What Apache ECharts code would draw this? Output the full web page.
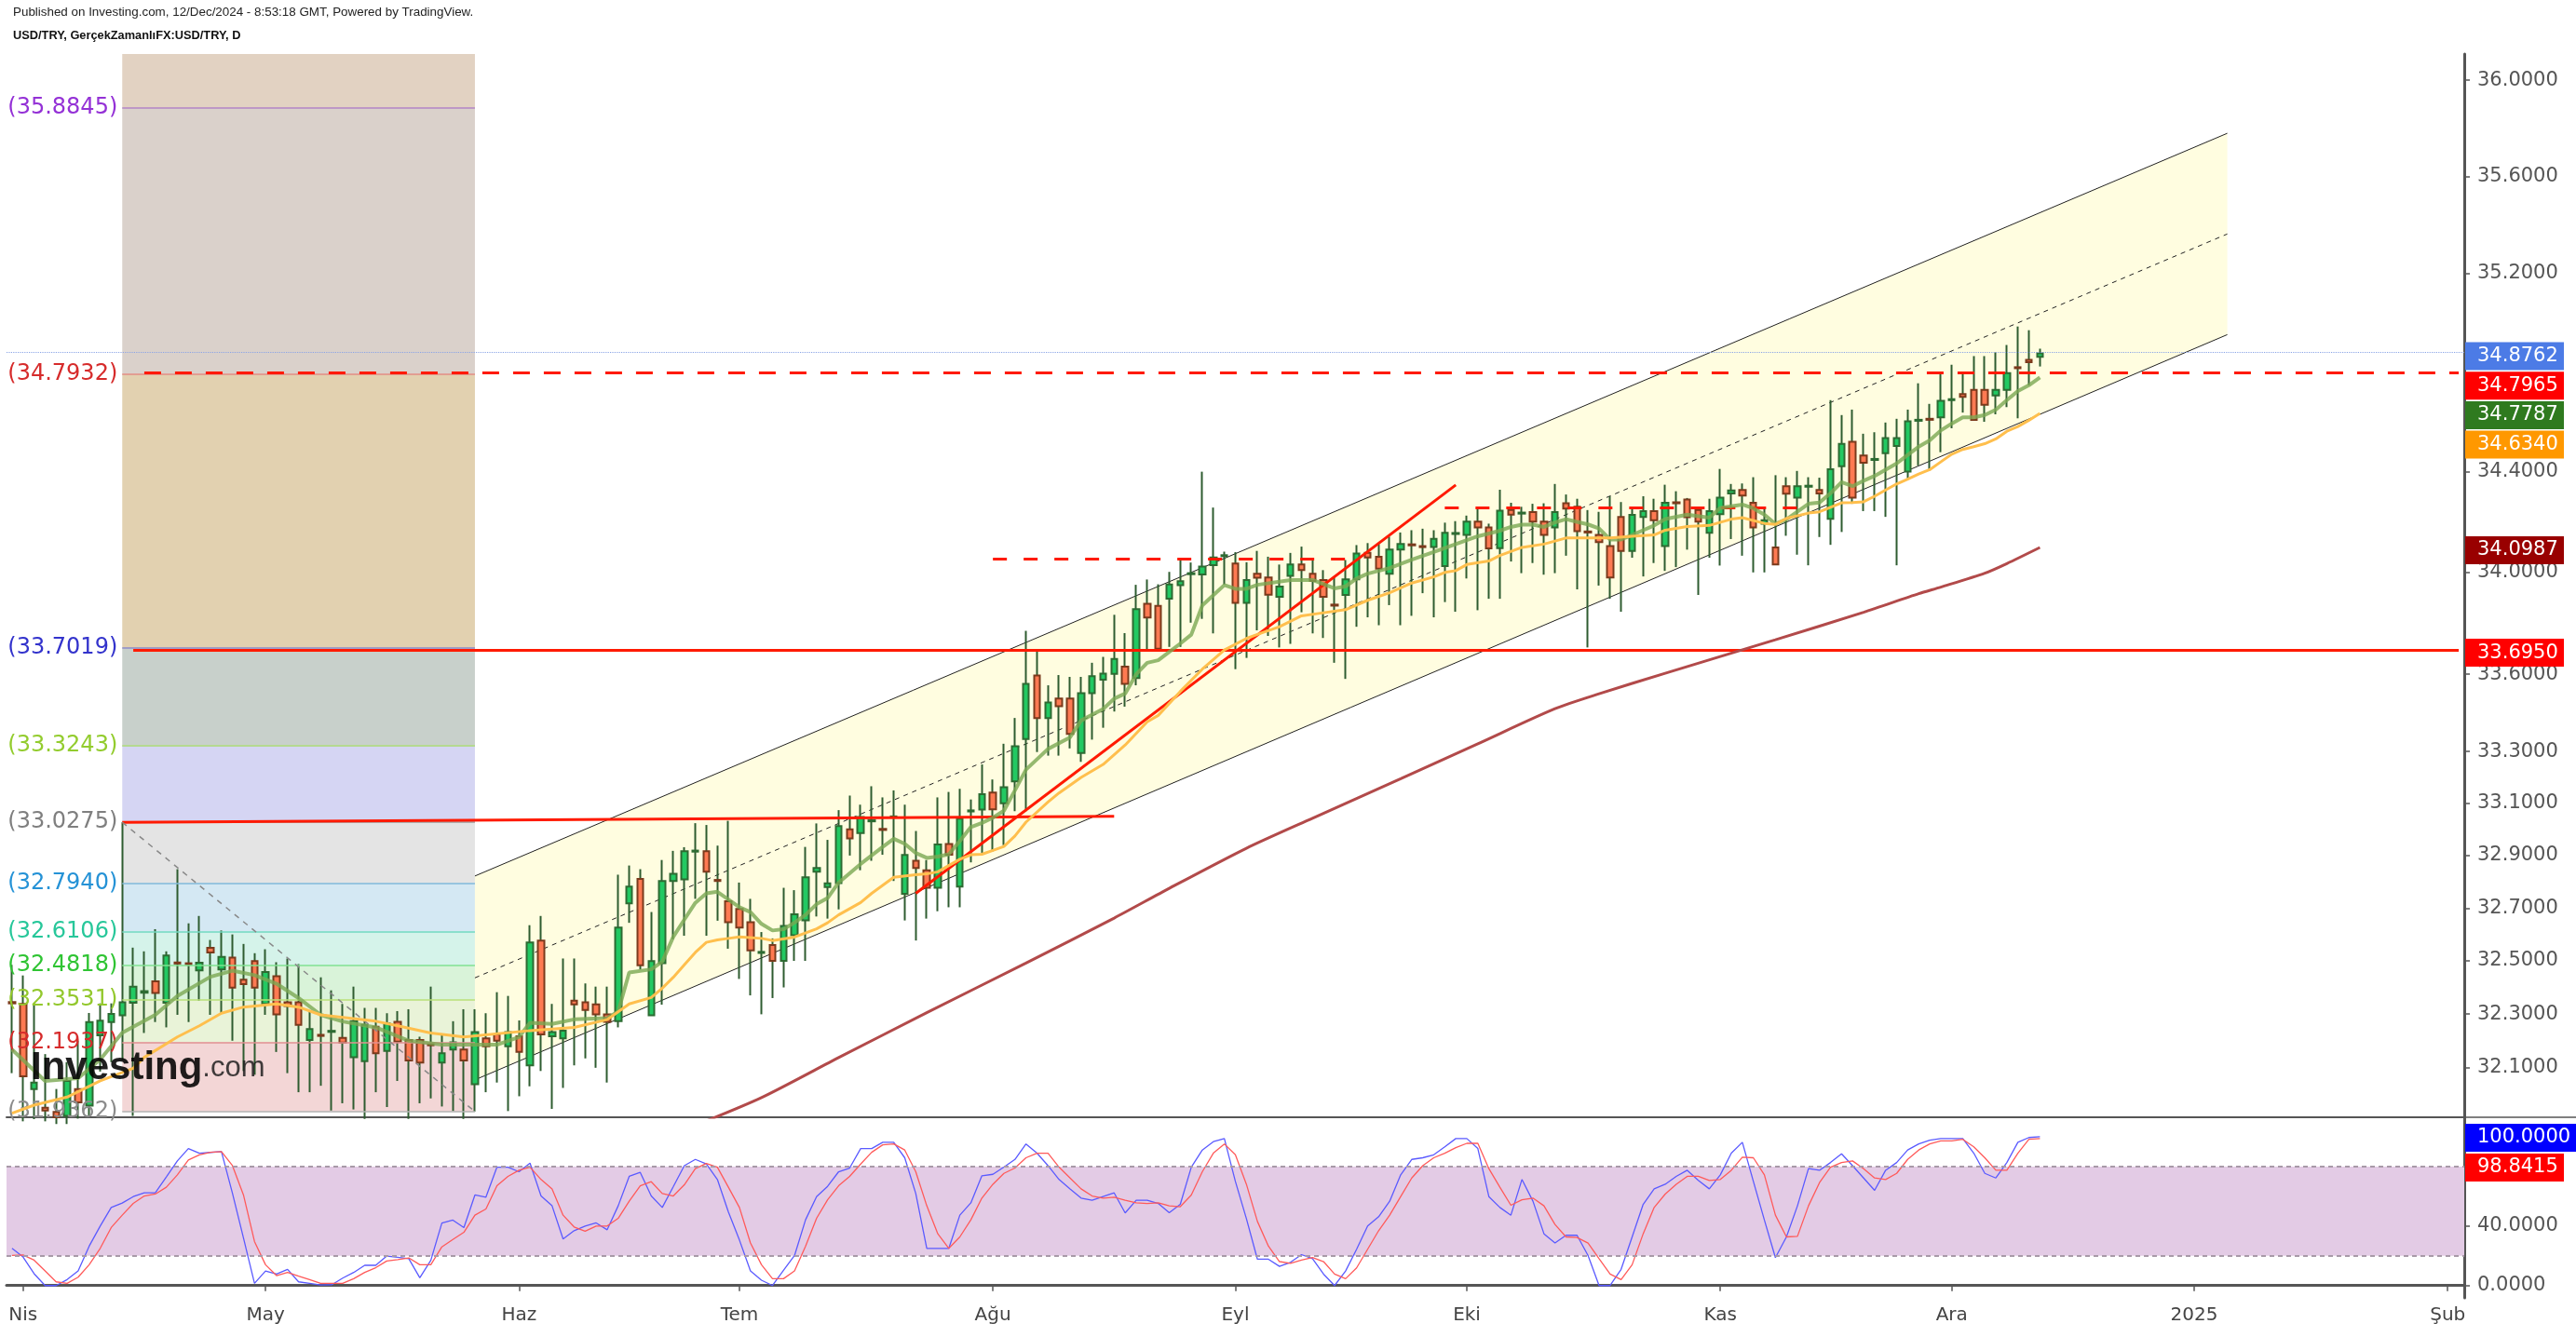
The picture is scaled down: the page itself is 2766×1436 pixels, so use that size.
<!DOCTYPE html>
<html>
<head>
<meta charset="utf-8">
<title>USD/TRY</title>
<script src="https://cdn.jsdelivr.net/npm/echarts/dist/echarts.min.js"></script>
<style>
html,body{margin:0;padding:0;background:#fff;}
#chart{width:2766px;height:1436px;}
</style>
</head>
<body>
<div id="chart"></div>
<script>
// ================= DATA =================
const firstDate = '2024-03-29';
const slotCount = 223;                       // weekdays shown on the time axis
const monthNames = ['Oca','Şub','Mar','Nis','May','Haz','Tem','Ağu','Eyl','Eki','Kas','Ara'];

// daily candles [open, close, low, high]
const candles = [
[32.345,32.340,32.079,32.485],[32.338,32.067,31.900,32.445],[32.020,32.044,31.908,32.338],[31.950,31.940,31.900,32.150],[31.935,31.915,31.890,32.020],
[31.920,32.050,31.890,32.120],[32.020,31.970,31.910,32.200],[31.958,32.270,31.920,32.304],[32.220,32.275,32.085,32.340],[32.270,32.300,32.120,32.340],
[32.295,32.344,32.130,33.0275],[32.342,32.403,31.920,32.550],[32.380,32.386,32.229,32.536],[32.423,32.379,32.270,32.620],[32.342,32.520,32.250,32.536],
[32.494,32.490,32.297,32.848],[32.491,32.487,32.270,32.642],[32.464,32.493,32.350,32.670],[32.549,32.532,32.297,32.579],[32.468,32.515,32.303,32.615],
[32.512,32.399,32.200,32.600],[32.429,32.412,32.087,32.564],[32.499,32.399,32.073,32.529],[32.338,32.458,32.297,32.544],[32.442,32.299,32.158,32.495],
[32.344,32.330,32.079,32.509],[32.344,32.259,32.008,32.488],[32.203,32.244,32.008,32.311],[32.222,32.218,32.032,32.438],[32.233,32.237,31.940,32.389],
[32.211,32.193,31.967,32.338],[32.138,32.273,31.944,32.403],[32.124,32.259,31.909,32.323],[32.252,32.153,32.008,32.323],[32.162,32.265,31.953,32.303],
[32.271,32.197,32.050,32.311],[32.203,32.126,31.909,32.318],[32.203,32.118,31.967,32.215],[32.187,32.183,31.985,32.403],[32.118,32.153,31.955,32.226],
[32.167,32.194,31.938,32.273],[32.167,32.126,31.909,32.318],[32.038,32.232,31.936,32.318],[32.209,32.179,32.008,32.303],[32.224,32.200,32.044,32.382],
[32.179,32.232,31.938,32.368],[32.217,32.158,31.993,32.276],[32.108,32.570,32.030,32.635],[32.577,32.224,32.087,32.670],[32.217,32.232,31.946,32.338],
[32.209,32.238,32.024,32.509],[32.350,32.336,32.108,32.509],[32.344,32.315,32.134,32.415],[32.336,32.299,32.099,32.403],[32.299,32.271,32.044,32.403],
[32.273,32.626,32.250,32.827],[32.718,32.782,32.644,32.862],[32.811,32.483,32.468,32.848],[32.295,32.499,32.295,32.685],[32.491,32.803,32.335,32.883],
[32.803,32.830,32.582,32.918],[32.809,32.917,32.595,32.932],[32.915,32.919,32.735,33.024],[32.917,32.838,32.595,33.017],[32.807,32.803,32.652,32.938],
[32.726,32.646,32.546,33.033],[32.697,32.626,32.432,32.797],[32.646,32.540,32.370,32.735],[32.530,32.534,32.299,32.609],[32.560,32.500,32.360,32.585],
[32.500,32.632,32.400,32.777],[32.597,32.676,32.500,32.768],[32.653,32.817,32.500,32.933],[32.838,32.853,32.668,33.023],[32.780,32.794,32.660,32.960],
[32.795,33.013,32.695,33.074],[33.000,32.966,32.900,33.130],[32.986,33.048,32.844,33.095],[33.031,33.035,32.880,33.166],[33.002,32.998,32.903,33.123],
[33.046,33.050,32.803,33.150],[32.754,32.902,32.653,33.095],[32.880,32.853,32.577,32.994],[32.844,32.777,32.660,32.883],[32.777,32.942,32.688,33.123],
[32.944,32.903,32.703,33.144],[32.782,33.041,32.703,33.156],[33.069,33.073,32.874,33.115],[33.076,33.135,32.909,33.250],[33.142,33.077,32.915,33.192],
[33.100,33.162,32.940,33.330],[33.185,33.320,33.070,33.430],[33.348,33.563,33.070,33.770],[33.595,33.430,33.298,33.697],[33.430,33.490,33.284,33.557],
[33.506,33.476,33.284,33.597],[33.506,33.368,33.312,33.590],[33.294,33.526,33.260,33.590],[33.526,33.593,33.346,33.645],[33.579,33.603,33.392,33.668],
[33.602,33.660,33.455,33.833],[33.630,33.563,33.474,33.761],[33.585,33.855,33.557,33.951],[33.876,33.822,33.690,33.972],[33.868,33.700,33.690,33.953],
[33.896,33.952,33.707,34.002],[33.950,33.965,33.707,34.047],[33.993,33.997,33.802,34.039],[33.992,34.023,33.817,34.400],[34.029,34.059,33.760,34.257],
[34.064,34.068,33.952,34.082],[34.035,33.880,33.620,34.080],[33.880,33.970,33.664,34.040],[33.995,33.979,33.772,34.085],[33.980,33.912,33.750,34.062],
[33.904,33.944,33.705,34.031],[33.986,34.031,33.719,34.077],[34.031,34.009,33.843,34.102],[33.995,33.966,33.760,34.058],[33.970,33.904,33.742,34.009],
[33.873,33.869,33.645,33.982],[33.911,33.973,33.582,34.049],[33.973,34.075,33.786,34.108],[34.077,34.059,33.823,34.116],[34.062,34.015,33.792,34.112],
[33.995,34.090,33.871,34.142],[34.090,34.112,33.792,34.158],[34.111,34.107,33.829,34.167],[34.104,34.100,33.918,34.173],[34.100,34.133,33.823,34.167],
[34.025,34.157,33.883,34.197],[34.152,34.156,33.845,34.203],[34.148,34.201,33.976,34.225],[34.201,34.178,33.851,34.256],[34.178,34.095,33.896,34.193],
[34.096,34.245,33.896,34.328],[34.247,34.229,34.043,34.276],[34.233,34.237,33.997,34.260],[34.239,34.201,34.037,34.272],[34.201,34.148,33.991,34.274],
[34.178,34.239,33.997,34.351],[34.274,34.253,34.066,34.309],[34.260,34.163,33.933,34.292],[34.162,34.158,33.705,34.247],[34.148,34.120,33.948,34.240],
[34.104,33.980,33.896,34.302],[34.220,34.085,33.845,34.279],[34.085,34.228,34.058,34.260],[34.220,34.243,33.984,34.302],[34.243,34.207,34.037,34.292],
[34.104,34.276,34.006,34.348],[34.278,34.274,34.021,34.322],[34.289,34.219,34.090,34.295],[34.247,34.201,33.911,34.256],[34.157,34.243,34.058,34.292],
[34.231,34.296,34.027,34.411],[34.313,34.325,34.132,34.351],[34.327,34.305,34.066,34.353],[34.276,34.178,34.000,34.378],[34.193,34.207,34.000,34.260],
[34.099,34.031,34.031,34.386],[34.342,34.312,34.145,34.378],[34.296,34.342,34.070,34.403],[34.340,34.344,34.028,34.378],[34.327,34.313,34.140,34.376],
[34.212,34.410,34.109,34.687],[34.422,34.511,34.160,34.627],[34.520,34.296,34.272,34.649],[34.465,34.436,34.243,34.552],[34.447,34.451,34.243,34.558],
[34.474,34.535,34.220,34.597],[34.503,34.535,34.028,34.612],[34.400,34.602,34.373,34.649],[34.604,34.608,34.425,34.755],[34.612,34.608,34.404,34.672],
[34.618,34.684,34.478,34.799],[34.687,34.691,34.574,34.830],[34.712,34.700,34.637,34.799],[34.728,34.608,34.608,34.865],[34.728,34.668,34.600,34.865],
[34.706,34.728,34.630,34.880],[34.728,34.796,34.659,34.910],[34.820,34.816,34.614,34.985],[34.850,34.840,34.747,34.970],[34.862,34.8762,34.823,34.895]
];

// moving averages: [candle index, value]
const fastMA = [[0,32.167],[3,32.05],[6,32.06],[8,32.13],[10,32.23],[13,32.297],[15,32.368],[18,32.44],[20,32.463],[22,32.446],[24,32.414],[26,32.36],[28,32.297],[30,32.272],[33,32.25],[36,32.2],[39,32.185],[42,32.185],[44,32.185],[46,32.214],[47,32.267],[49,32.263],[51,32.28],[54,32.285],[55,32.309],[56,32.456],[58,32.468],[59,32.497],[60,32.591],[61,32.656],[62,32.72],[63,32.756],[64,32.762],[66,32.703],[67,32.685],[68,32.64],[69,32.615],[70,32.62],[71,32.645],[72,32.674],[73,32.715],[74,32.738],[75,32.797],[77,32.868],[79,32.933],[80,32.964],[81,32.945],[82,32.91],[83,32.891],[84,32.896],[85,32.905],[86,32.956],[87,33.009],[88,33.025],[89,33.045],[90,33.072],[91,33.15],[92,33.23],[94,33.31],[96,33.355],[97,33.42],[99,33.465],[100,33.505],[101,33.525],[102,33.6],[103,33.645],[104,33.655],[106,33.72],[107,33.755],[108,33.87],[109,33.91],[110,33.95],[111,33.935],[112,33.935],[113,33.951],[116,33.97],[118,33.97],[120,33.937],[121,33.945],[122,33.976],[123,33.995],[125,34.017],[127,34.05],[129,34.081],[131,34.112],[133,34.143],[135,34.165],[136,34.18],[137,34.189],[138,34.189],[139,34.18],[140,34.198],[141,34.211],[142,34.2],[143,34.19],[144,34.174],[145,34.13],[146,34.13],[147,34.148],[148,34.167],[149,34.186],[150,34.211],[152,34.229],[154,34.217],[155,34.256],[157,34.269],[158,34.254],[159,34.229],[160,34.192],[161,34.21],[163,34.272],[164,34.277],[165,34.314],[166,34.358],[167,34.342],[168,34.364],[169,34.383],[170,34.408],[171,34.433],[172,34.467],[173,34.5],[174,34.525],[175,34.565],[176,34.593],[177,34.618],[178,34.618],[179,34.627],[180,34.649],[181,34.687],[182,34.724],[183,34.747],[184,34.7787]];
const midMA = [[0,31.93],[2,31.96],[5,31.99],[8,32.05],[11,32.097],[12,32.138],[15,32.214],[17,32.256],[19,32.303],[21,32.326],[24,32.338],[26,32.326],[28,32.297],[33,32.273],[35,32.256],[38,32.229],[41,32.214],[47,32.238],[51,32.25],[54,32.279],[56,32.338],[58,32.362],[59,32.397],[60,32.438],[61,32.485],[62,32.532],[63,32.57],[64,32.579],[65,32.585],[66,32.591],[68,32.585],[69,32.577],[71,32.59],[73,32.621],[74,32.644],[75,32.674],[77,32.721],[78,32.756],[80,32.817],[82,32.827],[83,32.83],[84,32.838],[85,32.862],[86,32.886],[87,32.903],[88,32.905],[89,32.92],[90,32.935],[91,32.975],[92,33.028],[94,33.105],[95,33.14],[97,33.2],[99,33.25],[101,33.325],[103,33.415],[104,33.44],[106,33.533],[108,33.62],[110,33.695],[112,33.74],[113,33.756],[115,33.786],[117,33.829],[119,33.841],[121,33.853],[123,33.89],[125,33.92],[127,33.958],[129,33.982],[130,34.0],[131,34.007],[132,34.031],[134,34.045],[135,34.067],[137,34.099],[139,34.112],[141,34.136],[143,34.136],[145,34.136],[147,34.143],[149,34.148],[150,34.167],[152,34.182],[154,34.186],[156,34.211],[157,34.217],[159,34.194],[160,34.19],[161,34.214],[163,34.235],[164,34.24],[166,34.276],[167,34.277],[168,34.28],[169,34.302],[170,34.327],[171,34.351],[172,34.37],[173,34.391],[174,34.408],[175,34.439],[176,34.47],[177,34.489],[178,34.5],[179,34.512],[180,34.531],[181,34.562],[182,34.581],[183,34.606],[184,34.634]];
const slowMA = [[62,31.885],[68,31.988],[75,32.137],[83,32.305],[92,32.492],[100,32.662],[105,32.775],[112,32.928],[118,33.043],[126,33.195],[133,33.330],[140,33.466],[144,33.524],[150,33.604],[160,33.735],[168,33.843],[173,33.916],[175,33.942],[179,33.997],[181,34.035],[184,34.0987]];

// stochastic %K and %D, one value per candle
const stochK = [25.0,19.2,8,0,0,4,9.8,26.5,40,52.5,55.5,59.8,62.3,62.3,73,83.8,92.1,89.0,89.5,90.0,62,32,1.5,9.8,7.7,10.9,2.5,1.5,0.4,0.5,5,8.8,13.6,13.6,19.8,19,18.1,5.2,17,42,44,39.0,60.9,59.4,79.6,79.6,76.5,82.3,60.2,53.6,31.3,36.9,40,42.1,37.5,53.6,73.4,76.1,60.2,52.5,66.5,80.6,84.8,81.7,71.3,49.4,30.6,9.8,3.6,0.0,10.2,20.2,44.2,59.8,66.7,76.5,79.0,92.1,92.1,96.3,96.3,85.9,61.9,25.0,25.0,25.0,47.3,55.6,73.8,74.8,79.6,84.8,95.2,89.0,80.6,71.3,65.0,58.8,57.3,59.8,62.3,48.8,57.3,57.3,55.2,49.0,54.6,79.6,91.1,96.7,98.8,70,45,17.7,17.7,12.9,15.6,20.8,18.1,7.7,0.0,9.8,24.4,40.0,46.3,56.7,74.4,84.8,85.9,87.9,93.2,98.8,98.8,92.1,59.8,52.5,47.3,71.3,56.7,34.8,28.6,33.8,33.8,20.2,0.0,0.0,10.9,32.7,54.6,65.0,68.1,73.4,77.5,70.7,65.0,74.4,89.0,96.3,70,44,18.8,32.7,53.6,78.6,77.5,82.7,88.6,80.6,72.3,64.0,77.5,82.7,91.1,95.2,97.7,98.8,98.8,98.8,89.0,75.4,72.3,82.7,96.3,99.5,100];
const stochD = [20.2,20.6,17.1,9.8,2.5,1.5,5.6,14.0,25,39.0,47.3,55.2,60.2,61.5,66.1,74.4,84.4,87.9,89.6,90.0,80.6,60.9,29.6,14.0,6.7,8.8,6.3,4,1.5,1.5,1.5,4.6,8.8,12,16.5,17.5,18.6,14.0,14.0,26,31,35.8,47.3,51.5,67.1,73.4,77.5,79.6,71.3,65.0,47.3,39.4,36.5,40.0,40.0,45.2,56.7,67.1,69.8,61.9,60.2,67.7,78.6,82.1,79.6,66.1,52.5,28.6,14.0,4.6,4.6,9.8,26.5,45.2,57.7,67.1,73.4,81.7,89.6,94.6,95.2,91.1,76.5,53.6,34.8,25.0,32.7,44.2,58.8,68.1,75.4,79.0,85.9,89.0,89.0,79.6,72.3,65.0,60.2,58.8,59.4,57.3,55.6,55.2,55.6,53.6,53.0,60.9,76.5,89.0,95.2,87.9,68.1,43.1,26.5,16.1,15.0,17.1,18.8,16.1,7.7,4.6,11.9,24.4,36.9,47.3,59.8,72.3,80.6,85.9,89.0,92.7,95.6,95.6,78.6,66.1,54.0,57.7,58.8,53.6,41.1,32.7,32.3,28.6,18.1,7.7,4.0,14.0,34.8,52.5,61.5,68.1,73.4,73.4,70.7,71.3,77.5,86.3,85.9,74.4,47.3,32.7,33.1,53.6,69.2,79.6,82.7,83.8,78.6,72.3,71.3,75.4,84.8,91.1,95.2,97.3,97.3,98.3,93.2,85.9,77.5,77.5,89.0,98.3,98.8415];

// fibonacci retracement (drawn from candle 10 to candle 42)
const fibRange = [10, 42];
const fibLevels = [35.8845, 34.7932, 33.7019, 33.3243, 33.0275, 32.7940, 32.6106, 32.4818, 32.3531, 32.1937, 31.9362];

// channel: [candle index, price]
const channelUpper = [[42, 32.822], [201, 35.779]];
const channelMid   = [[42, 32.436], [201, 35.363]];
const channelLower = [[42, 32.054], [201, 34.952]];

// hand drawn lines
const breakoutLine = [[10, 33.0275], [100, 33.05]];
const trendLine    = [[82, 32.756], [131, 34.347]];
const fibDiagonal  = [[10, 33.0275], [42, 31.9362]];
const resist1      = [[89, 34.055], [121, 34.055]];
const resist2      = [[130, 34.256], [162, 34.256]];
const upperLevel   = [[12, 34.7965], [222, 34.7965]];
const lowerLevel   = [[11, 33.695], [222, 33.695]];

// axis
const priceMin = 31.915, priceMax = 36.11;
const priceTicks = [32.1, 32.3, 32.5, 32.7, 32.9, 33.1, 33.3, 33.6, 34.0, 34.4, 35.2, 35.6, 36.0];
const stochTicks = [0, 40];
const stochBand = [20, 80];

// ================= BUILD =================
function weekdays(start, n) {
  const out = [];
  const d = new Date(start + 'T00:00:00Z');
  while (out.length < n) {
    const wd = d.getUTCDay();
    if (wd !== 0 && wd !== 6) out.push(d.toISOString().slice(0, 10));
    d.setUTCDate(d.getUTCDate() + 1);
  }
  return out;
}
const categories = weekdays(firstDate, slotCount);
const isMonthStart = (idx) => idx > 0 && categories[idx].slice(5, 7) !== categories[idx - 1].slice(5, 7);
const monthLabel = (v) => { const m = +v.slice(5, 7); return m === 1 ? v.slice(0, 4) : monthNames[m - 1]; };

const bodies = candles.map(c => [c[0], c[1], Math.min(c[0], c[1]), Math.max(c[0], c[1])]);

const fibFill = ['#e2d2c2','#dad1cb','#e2d1b0','#c8d0cb','#d5d5f3','#e4e4e4','#d4e8f3','#d5f3ea','#d9f3d9','#e9f3d8','#f3d6d6'];
const fibText = ['#9431d6','#d62b2b','#3333cc','#93cc2e','#7f7f7f','#2592d6','#27c79a','#2fc433','#93c82d','#d62b2b','#8c8c8c'];
const fibLine = ['#b385c6','#e08a84','#8a8ac8','#a8d870','#9a9a9a','#80b8d8','#70d8c0','#80e090','#b8e078','#e09090','#b0b0b0'];

const fibAreaData = [];
fibAreaData.push([{xAxis: fibRange[0], yAxis: priceMax, itemStyle: {color: fibFill[0]}}, {xAxis: fibRange[1], yAxis: fibLevels[0]}]);
for (let k = 0; k < fibLevels.length - 1; k++) {
  fibAreaData.push([{xAxis: fibRange[0], yAxis: fibLevels[k], itemStyle: {color: fibFill[k + 1]}}, {xAxis: fibRange[1], yAxis: fibLevels[k + 1]}]);
}
const fibLineData = fibLevels.map((v, k) => [
  {coord: [fibRange[0], v], lineStyle: {color: fibLine[k], width: 1.5, type: 'solid'},
   label: {show: true, position: 'start', formatter: '(' + v.toFixed(4) + ')', color: fibText[k], fontSize: 24, fontFamily: 'DejaVu Sans', distance: 5}},
  {coord: [fibRange[1], v]}
]);

const seg = (pts, style) => [{coord: pts[0], lineStyle: style}, {coord: pts[1]}];
const lastClose = candles[candles.length - 1][1];

const option = {
  animation: false,
  backgroundColor: '#ffffff',
  textStyle: {fontFamily: 'DejaVu Sans'},
  grid: [
    {left: 7, right: 120, top: 58, height: 1142},
    {left: 7, right: 120, top: 1201, height: 193}
  ],
  xAxis: [
    {type: 'category', gridIndex: 0, data: categories, boundaryGap: true,
     axisLine: {show: true, lineStyle: {color: '#555', width: 2}}, axisTick: {show: false}, axisLabel: {show: false}, splitLine: {show: false}},
    {type: 'category', gridIndex: 1, data: categories, boundaryGap: true,
     axisLine: {show: true, lineStyle: {color: '#555', width: 3}},
     axisTick: {show: true, alignWithLabel: true, interval: isMonthStart, length: 6, lineStyle: {color: '#555', width: 1.5}},
     axisLabel: {interval: isMonthStart, formatter: monthLabel, fontSize: 20, color: '#444', margin: 9, fontFamily: 'DejaVu Sans'},
     splitLine: {show: false}}
  ],
  yAxis: [
    {type: 'log', gridIndex: 0, position: 'right', min: priceMin, max: priceMax,
     axisLine: {show: true, lineStyle: {color: '#555', width: 3}},
     axisTick: {show: true, length: 6, customValues: priceTicks, lineStyle: {color: '#555', width: 1.5}},
     axisLabel: {customValues: priceTicks, formatter: v => Number(v).toFixed(4), fontSize: 21, color: '#555', margin: 14, fontFamily: 'DejaVu Sans'},
     splitLine: {show: false}},
    {type: 'value', gridIndex: 1, position: 'right', min: -8.3, max: 112.5,
     axisLine: {show: true, lineStyle: {color: '#555', width: 3}},
     axisTick: {show: true, length: 6, customValues: stochTicks, lineStyle: {color: '#555', width: 1.5}},
     axisLabel: {customValues: stochTicks, formatter: v => Number(v).toFixed(4), fontSize: 21, color: '#555', margin: 14, fontFamily: 'DejaVu Sans'},
     splitLine: {show: false}}
  ],
  series: [
    {type: 'line', xAxisIndex: 0, yAxisIndex: 0, data: [], z: 1, silent: true,
     markArea: {silent: true, data: fibAreaData},
     markLine: {silent: true, symbol: ['none', 'none'], data: fibLineData}},
    {type: 'custom', xAxisIndex: 0, yAxisIndex: 0, z: 1, silent: true, data: [[channelUpper[0][0], channelUpper[0][1]]],
     renderItem: (params, api) => {
       const pts = [api.coord(channelUpper[0]), api.coord(channelUpper[1]), api.coord(channelLower[1]), api.coord(channelLower[0])];
       return {type: 'polygon', shape: {points: pts}, style: {fill: '#fffde0'}};
     }},
    {type: 'line', xAxisIndex: 0, yAxisIndex: 0, z: 2, data: channelUpper, symbol: 'none', silent: true, lineStyle: {color: '#222', width: 1}},
    {type: 'line', xAxisIndex: 0, yAxisIndex: 0, z: 2, data: channelLower, symbol: 'none', silent: true, lineStyle: {color: '#222', width: 1}},
    {type: 'line', xAxisIndex: 0, yAxisIndex: 0, z: 2, data: channelMid, symbol: 'none', silent: true, lineStyle: {color: '#222', width: 1, type: [5, 5]}},
    {type: 'candlestick', xAxisIndex: 0, yAxisIndex: 0, z: 3, data: candles, barWidth: 1, silent: true,
     itemStyle: {color: '#2e5c30', color0: '#2e5c30', borderColor: '#2e5c30', borderColor0: '#2e5c30', borderWidth: 2}},
    {type: 'candlestick', xAxisIndex: 0, yAxisIndex: 0, z: 4, data: bodies, barWidth: 7, silent: true,
     itemStyle: {color: '#22c962', color0: '#ff7a52', borderColor: '#2d6b32', borderColor0: '#7b3a1c', borderWidth: 2}},
    {type: 'line', xAxisIndex: 0, yAxisIndex: 0, z: 5, data: fastMA, symbol: 'none', silent: true, lineStyle: {color: 'rgba(122,168,82,0.8)', width: 4}},
    {type: 'line', xAxisIndex: 0, yAxisIndex: 0, z: 5, data: midMA, symbol: 'none', silent: true, lineStyle: {color: '#ffbf4d', width: 3}},
    {type: 'line', xAxisIndex: 0, yAxisIndex: 0, z: 5, data: slowMA, symbol: 'none', smooth: 0.25, silent: true, lineStyle: {color: '#b24a4a', width: 3}},
    {type: 'line', xAxisIndex: 0, yAxisIndex: 0, data: [], z: 6, silent: true,
     markLine: {silent: true, symbol: ['none', 'none'], label: {show: false},
       data: [
         seg(breakoutLine, {color: '#ff1a00', width: 3, type: 'solid'}),
         seg(trendLine, {color: '#ff1a00', width: 3, type: 'solid'}),
         seg(fibDiagonal, {color: '#888', width: 1.5, type: [6, 6]}),
         seg(resist1, {color: '#ff1a00', width: 3, type: [15, 18]}),
         seg(resist2, {color: '#ff1a00', width: 3, type: [15, 18]}),
         seg(upperLevel, {color: '#ff1a00', width: 3, type: [18, 15]}),
         seg(lowerLevel, {color: '#ff1a00', width: 3, type: 'solid'}),
         {yAxis: lastClose, lineStyle: {color: '#8aa4e6', width: 1.2, type: 'dotted'}}
       ]}},
    {type: 'line', xAxisIndex: 1, yAxisIndex: 1, data: [], z: 1, silent: true,
     markArea: {silent: true, itemStyle: {color: '#e3cbe5'}, data: [[{yAxis: stochBand[0]}, {yAxis: stochBand[1]}]]},
     markLine: {silent: true, symbol: ['none', 'none'], label: {show: false},
       lineStyle: {color: '#a89aa8', width: 2, type: [5, 4]},
       data: [{yAxis: stochBand[0]}, {yAxis: stochBand[1]}]}},
    {type: 'line', xAxisIndex: 1, yAxisIndex: 1, z: 3, data: stochK, symbol: 'none', silent: true, lineStyle: {color: '#5a5aff', width: 1.3}},
    {type: 'line', xAxisIndex: 1, yAxisIndex: 1, z: 3, data: stochD, symbol: 'none', silent: true, lineStyle: {color: '#ff5a5a', width: 1.3}}
  ]
};

const chart = echarts.init(document.getElementById('chart'), null, {renderer: 'canvas'});
chart.setOption(option);

const gfx = [
  {type: 'text', left: 14, top: 7, z: 100, style: {text: 'Published on Investing.com, 12/Dec/2024 - 8:53:18 GMT, Powered by TradingView.', font: '13.4px "Liberation Sans"', fill: '#222'}},
  {type: 'text', left: 14, top: 32, z: 100, style: {text: 'USD/TRY, GerçekZamanlıFX:USD/TRY, D', font: 'bold 12.8px "Liberation Sans"', fill: '#111'}},
  {type: 'text', left: 33, top: 1126, z: 90, style: {
    text: '{a|Investing}{b|.com}',
    rich: {a: {font: 'bold 42px "Liberation Sans"', fill: 'rgba(0,0,0,0.88)'}, b: {font: '31px "Liberation Sans"', fill: 'rgba(30,30,30,0.85)'}}
  }},
  {type: 'line', z: 50, shape: {x1: 2646, y1: 1200, x2: 2766, y2: 1200}, style: {stroke: '#555', lineWidth: 1.5}}
];

function addTags(list, axisIdx, gap, shift) {
  let prev = -Infinity;
  list.sort((a, b) => b.v - a.v).forEach(t => {
    let y = chart.convertToPixel({yAxisIndex: axisIdx}, t.v) + shift;
    y = Math.max(y, prev + gap);
    prev = y;
    gfx.push({type: 'rect', z: 100, shape: {x: 2647, y: y - 15, width: t.w || 106, height: 30}, style: {fill: t.bg}});
    gfx.push({type: 'text', z: 101, style: {text: t.v.toFixed(4), x: 2660, y: y, font: '21px "DejaVu Sans"', fill: '#fff', verticalAlign: 'middle', align: 'left'}});
  });
}
addTags([
  {v: lastClose, bg: '#4c7be6'},
  {v: upperLevel[0][1], bg: '#ff0000'},
  {v: fastMA[fastMA.length - 1][1], bg: '#2f7a1f'},
  {v: midMA[midMA.length - 1][1], bg: '#ff9800'},
  {v: slowMA[slowMA.length - 1][1], bg: '#990000'},
  {v: lowerLevel[0][1], bg: '#ff0000'}
], 0, 31.7, 3);
addTags([
  {v: stochK[stochK.length - 1], bg: '#0000ff', w: 119},
  {v: stochD[stochD.length - 1], bg: '#ff0000'}
], 1, 32, 1);

chart.setOption({graphic: gfx});
</script>
</body>
</html>
